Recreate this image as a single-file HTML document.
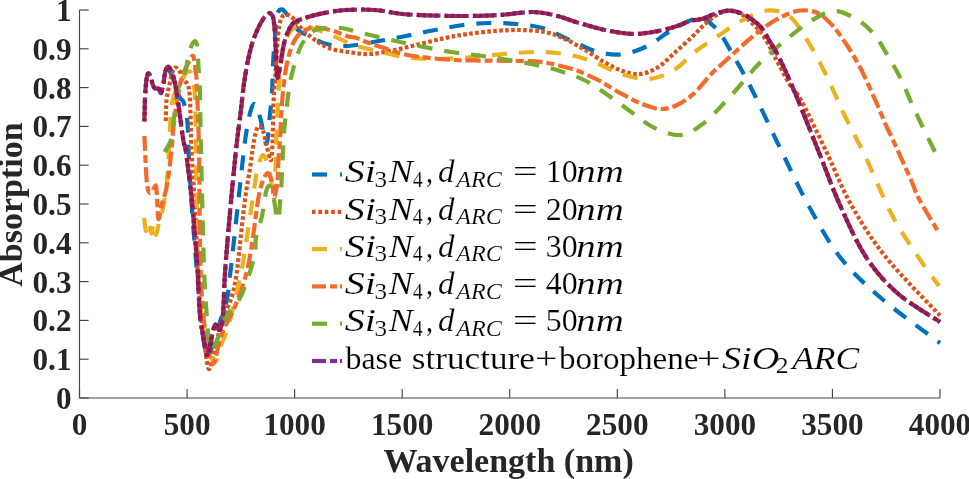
<!DOCTYPE html>
<html><head><meta charset="utf-8"><style>
html,body{margin:0;padding:0;background:#fff;}
body{width:969px;height:479px;overflow:hidden;}
svg{display:block;filter:blur(0.45px);}
.tk text{font-family:"Liberation Serif",serif;font-weight:bold;font-size:32px;fill:#262626;stroke:#262626;stroke-width:0;}
.lab{font-family:"Liberation Serif",serif;font-weight:bold;font-size:34px;fill:#262626;stroke:#262626;stroke-width:0;}
.lg text{fill:#000;stroke:#fff;stroke-width:0.15px;}
</style></head><body>
<svg width="969" height="479" viewBox="0 0 969 479">
<rect width="969" height="479" fill="#fff"/>
<g>
<path d="M168.0,68.0 C168.7,69.3 170.7,72.7 172.0,76.0 C173.3,79.3 174.7,84.3 176.0,88.0 C177.3,91.7 178.7,95.5 180.0,98.0 C181.3,100.5 182.8,98.8 184.0,103.0 C185.2,107.2 186.7,113.5 187.5,123.0 C188.3,132.5 188.2,145.5 189.0,160.0 C189.8,174.5 190.8,193.3 192.0,210.0 C193.2,226.7 194.7,244.2 196.0,260.0 C197.3,275.8 198.8,291.7 200.0,305.0 C201.2,318.3 202.2,331.3 203.5,340.0 C204.8,348.7 206.2,355.3 207.5,357.0 C208.8,358.7 209.2,354.8 211.0,350.0 C212.8,345.2 215.4,336.3 218.0,328.0 C220.6,319.7 224.8,308.8 226.8,300.0 C228.8,291.2 229.0,282.8 230.0,275.0 C231.0,267.2 230.5,271.8 232.6,253.0 C234.7,234.2 240.4,181.2 242.5,162.5 C244.6,143.8 243.8,149.2 245.0,141.0 C246.2,132.8 248.3,119.2 250.0,113.0 C251.7,106.8 253.2,103.0 255.0,104.0 C256.8,105.0 258.6,112.3 260.5,119.0 C262.4,125.7 264.8,144.0 266.3,144.0 C267.8,144.0 268.6,127.5 269.5,119.0 C270.4,110.5 271.4,102.0 272.0,93.0 C272.6,84.0 272.5,74.3 273.0,65.0 C273.5,55.7 274.3,45.3 275.0,37.0 C275.7,28.7 275.9,19.6 277.0,15.0 C278.1,10.4 279.7,9.6 281.3,9.4 C282.9,9.2 283.7,10.2 286.5,13.6 C289.3,17.0 294.9,26.6 298.0,30.0 C301.1,33.4 300.3,31.7 305.0,34.0 C309.7,36.3 318.8,41.8 326.0,43.8 C333.2,45.8 339.2,46.5 348.0,46.0 C356.8,45.5 369.3,42.7 379.0,41.0 C388.7,39.3 397.1,37.8 406.0,36.0 C414.9,34.2 423.5,32.2 432.5,30.5 C441.5,28.8 450.6,26.8 460.0,25.5 C469.4,24.2 479.7,23.2 489.0,23.0 C498.3,22.8 507.1,23.2 516.0,24.0 C524.9,24.8 533.9,25.5 542.5,28.0 C551.1,30.5 558.8,35.2 567.5,39.0 C576.2,42.8 586.1,48.4 595.0,51.0 C603.9,53.6 612.2,55.3 621.0,54.5 C629.8,53.7 639.3,49.9 647.5,46.0 C655.7,42.1 662.5,35.4 670.0,31.0 C677.5,26.6 687.0,21.7 692.5,19.5 C698.0,17.3 698.6,15.9 703.0,18.0 C707.4,20.1 714.0,25.8 719.0,32.0 C724.0,38.2 728.3,47.0 733.0,55.0 C737.7,63.0 742.7,71.8 747.0,80.0 C751.3,88.2 753.2,92.0 759.0,104.0 C764.8,116.0 773.8,135.2 782.0,152.0 C790.2,168.8 798.4,187.1 808.0,204.5 C817.6,221.9 827.5,241.0 839.7,256.7 C852.0,272.4 864.8,284.1 881.5,298.5 C898.2,312.9 930.2,335.6 940.0,343.0" fill="none" stroke="#0072BD" stroke-width="4.2" stroke-dasharray="15 12" />
<path d="M165.8,121.0 C165.9,117.5 165.9,106.0 166.5,100.0 C167.1,94.0 168.4,89.7 169.4,85.0 C170.4,80.3 171.4,74.9 172.5,72.0 C173.6,69.1 174.4,67.5 175.7,67.5 C176.9,67.5 178.6,69.9 180.0,72.0 C181.4,74.1 182.6,77.7 184.0,80.0 C185.4,82.3 187.2,82.7 188.2,86.0 C189.2,89.3 189.4,89.3 190.0,100.0 C190.6,110.7 190.8,135.0 191.5,150.0 C192.2,165.0 193.2,176.7 194.0,190.0 C194.8,203.3 195.4,217.1 196.0,230.0 C196.6,242.9 196.7,253.3 197.5,267.5 C198.3,281.7 199.8,301.6 201.0,315.0 C202.2,328.4 203.7,339.0 205.0,348.0 C206.3,357.0 207.5,368.3 209.0,369.0 C210.5,369.7 211.8,359.8 214.0,352.0 C216.2,344.2 219.0,331.3 222.0,322.0 C225.0,312.7 229.6,303.8 232.0,296.0 C234.4,288.2 235.2,282.2 236.4,275.0 C237.6,267.8 237.6,265.5 239.0,253.0 C240.4,240.5 243.1,214.3 245.0,200.0 C246.9,185.7 248.7,176.8 250.2,167.0 C251.7,157.2 252.6,147.8 253.9,141.0 C255.2,134.2 256.7,127.8 258.3,126.3 C259.9,124.8 262.1,129.1 263.4,132.0 C264.7,134.9 265.3,140.0 266.3,144.0 C267.3,148.0 268.4,153.3 269.2,156.0 C270.0,158.7 270.5,161.0 271.0,160.0 C271.5,159.0 271.9,155.2 272.2,150.0 C272.5,144.8 272.7,137.3 272.9,129.0 C273.1,120.7 273.2,108.0 273.6,100.0 C274.0,92.0 274.6,87.0 275.0,81.0 C275.4,75.0 275.5,71.6 276.0,64.0 C276.5,56.4 277.2,43.0 278.0,35.5 C278.8,28.0 279.6,22.5 281.0,19.0 C282.4,15.5 284.3,14.6 286.5,14.6 C288.7,14.6 291.4,16.6 294.0,19.0 C296.6,21.4 298.5,25.5 302.0,29.0 C305.5,32.5 310.5,36.8 315.0,40.0 C319.5,43.2 323.5,46.0 329.0,48.0 C334.5,50.0 341.2,51.0 348.0,52.0 C354.8,53.0 362.2,54.3 370.0,54.0 C377.8,53.7 386.7,51.7 395.0,50.0 C403.3,48.3 411.7,46.0 420.0,44.0 C428.3,42.0 437.1,39.7 445.0,38.0 C452.9,36.3 459.2,35.2 467.5,34.0 C475.8,32.8 486.2,31.7 495.0,31.0 C503.8,30.3 511.7,29.8 520.0,30.0 C528.3,30.2 537.5,30.5 545.0,32.0 C552.5,33.5 558.3,36.0 565.0,39.0 C571.7,42.0 578.3,46.1 585.0,50.0 C591.7,53.9 598.8,59.0 605.0,62.5 C611.2,66.0 616.7,69.1 622.5,71.0 C628.3,72.9 634.2,74.6 640.0,74.0 C645.8,73.4 651.7,71.1 657.5,67.5 C663.3,63.9 669.4,57.5 675.0,52.5 C680.6,47.5 686.9,41.8 691.3,37.6 C695.7,33.5 698.0,30.7 701.3,27.6 C704.6,24.5 708.0,21.3 711.3,18.8 C714.6,16.3 717.9,13.8 721.3,12.5 C724.6,11.2 727.8,10.3 731.4,10.7 C735.0,11.1 738.8,12.6 742.6,15.0 C746.4,17.4 750.6,21.7 754.0,25.0 C757.4,28.3 760.0,31.2 762.7,35.0 C765.4,38.8 768.1,43.8 770.2,47.6 C772.3,51.4 771.9,51.4 775.2,57.6 C778.5,63.8 785.7,77.9 790.0,85.0 C794.3,92.1 794.9,88.8 801.0,100.0 C807.1,111.2 818.2,134.6 826.5,152.0 C834.8,169.4 841.2,187.1 851.0,204.5 C860.8,221.9 870.7,238.2 885.5,256.7 C900.3,275.2 930.9,305.7 940.0,315.5" fill="none" stroke="#D95319" stroke-width="4.2" stroke-dasharray="3.6 2.4" />
<path d="M144.2,218.0 C144.5,220.2 145.1,230.3 145.8,231.0 C146.5,231.7 147.6,221.6 148.5,222.0 C149.4,222.4 150.7,233.3 151.5,233.5 C152.3,233.7 152.8,222.8 153.5,223.0 C154.2,223.2 155.1,235.2 156.0,235.0 C156.9,234.8 158.0,225.8 159.0,222.0 C160.0,218.2 161.0,216.2 162.0,212.0 C163.0,207.8 164.1,203.2 165.0,197.0 C165.9,190.8 166.6,188.2 167.5,175.0 C168.4,161.8 169.8,129.7 170.5,118.0 C171.2,106.3 170.6,109.7 171.5,105.0 C172.4,100.3 174.2,94.2 176.0,90.0 C177.8,85.8 180.3,82.8 182.0,80.0 C183.7,77.2 184.7,74.4 186.0,73.0 C187.3,71.6 188.9,70.9 190.0,71.7 C191.1,72.5 191.7,73.6 192.5,78.0 C193.3,82.4 194.4,86.0 195.0,98.0 C195.6,110.0 195.5,121.8 196.0,150.0 C196.5,178.2 197.2,240.3 198.0,267.0 C198.8,293.7 199.7,297.0 201.0,310.0 C202.3,323.0 203.7,336.3 206.0,345.0 C208.3,353.7 212.4,362.0 214.9,362.0 C217.4,362.0 218.7,351.2 221.0,345.0 C223.3,338.8 225.5,336.3 228.7,325.0 C231.9,313.7 237.5,289.5 240.2,277.0 C242.9,264.5 242.9,262.8 245.0,250.0 C247.1,237.2 250.4,213.5 252.5,200.0 C254.6,186.5 255.8,176.5 257.5,169.0 C259.2,161.5 261.2,155.5 263.0,155.0 C264.8,154.5 266.3,161.0 268.0,166.0 C269.7,171.0 271.7,185.7 273.0,185.0 C274.3,184.3 275.2,171.3 275.8,162.0 C276.4,152.7 276.1,138.6 276.5,129.0 C276.9,119.4 277.4,114.2 278.0,104.4 C278.6,94.6 279.2,79.1 280.0,70.0 C280.8,60.9 281.7,55.8 283.0,50.0 C284.3,44.2 286.2,38.7 288.0,35.0 C289.8,31.3 291.2,29.5 294.0,28.0 C296.8,26.5 299.5,25.1 305.0,26.0 C310.5,26.9 320.2,30.8 327.0,33.4 C333.8,36.0 341.8,39.9 346.0,41.8 C350.2,43.7 347.2,43.5 352.5,45.0 C357.8,46.5 368.9,49.0 377.5,51.0 C386.1,53.0 395.2,55.7 404.0,57.0 C412.8,58.3 420.7,58.8 430.0,59.0 C439.3,59.2 450.4,58.6 460.0,58.0 C469.6,57.4 478.3,56.3 487.5,55.5 C496.7,54.7 505.8,53.6 515.0,53.0 C524.2,52.4 533.3,51.7 542.5,52.0 C551.7,52.3 561.2,53.2 570.0,55.0 C578.8,56.8 586.5,59.3 595.0,62.5 C603.5,65.7 612.0,71.2 621.0,74.0 C630.0,76.8 640.2,79.7 649.0,79.0 C657.8,78.3 666.2,74.7 674.0,70.0 C681.8,65.3 688.7,56.7 696.0,51.0 C703.3,45.3 710.5,41.0 718.0,36.0 C725.5,31.0 732.8,25.2 741.0,21.0 C749.2,16.8 759.0,11.3 767.0,10.5 C775.0,9.7 782.5,11.4 789.0,16.0 C795.5,20.6 800.5,30.0 805.8,38.0 C811.0,46.0 816.1,55.7 820.5,64.0 C824.9,72.3 828.1,79.4 832.0,87.7 C835.9,96.0 838.3,102.4 843.9,114.0 C849.5,125.6 857.8,140.7 865.8,157.5 C873.8,174.3 883.3,198.5 892.0,215.0 C900.7,231.5 910.2,244.9 918.0,256.7 C925.8,268.5 935.5,281.1 939.0,286.0" fill="none" stroke="#EDB120" stroke-width="4.2" stroke-dasharray="15 12" />
<path d="M144.4,136.0 C144.7,141.7 145.5,161.5 146.0,170.0 C146.5,178.5 146.8,183.2 147.5,187.0 C148.2,190.8 148.9,192.8 150.0,193.0 C151.1,193.2 153.0,189.2 154.0,188.0 C155.0,186.8 155.5,184.5 156.0,186.0 C156.5,187.5 156.6,191.5 157.0,197.0 C157.4,202.5 157.7,217.8 158.5,219.0 C159.3,220.2 160.8,208.8 162.0,204.0 C163.2,199.2 164.8,195.3 166.0,190.0 C167.2,184.7 168.1,178.7 169.0,172.0 C169.9,165.3 170.7,157.7 171.5,150.0 C172.3,142.3 172.5,135.2 173.6,126.0 C174.7,116.8 176.4,103.7 178.0,95.0 C179.6,86.3 181.0,79.8 183.0,74.0 C185.0,68.2 188.3,62.9 190.0,60.0 C191.7,57.1 192.4,54.3 193.4,56.5 C194.4,58.7 195.2,68.6 195.8,73.0 C196.4,77.4 196.2,70.2 196.7,83.0 C197.2,95.8 198.4,119.2 199.0,150.0 C199.6,180.8 199.5,237.5 200.5,267.5 C201.5,297.5 203.0,313.9 205.0,330.0 C207.0,346.1 209.8,363.3 212.6,364.0 C215.4,364.7 217.9,344.0 221.8,334.0 C225.7,324.0 232.0,313.8 236.0,304.0 C240.0,294.2 243.6,283.5 246.0,275.0 C248.4,266.5 249.3,259.8 250.5,253.0 C251.7,246.2 251.9,244.2 253.4,234.0 C254.9,223.8 257.3,202.1 259.6,192.0 C261.9,181.9 264.9,175.1 267.0,173.4 C269.1,171.7 270.8,177.9 272.0,182.0 C273.2,186.1 273.1,198.0 274.0,198.0 C274.9,198.0 276.7,188.2 277.4,182.0 C278.1,175.8 277.9,168.6 278.4,161.0 C278.9,153.4 279.6,145.5 280.2,136.5 C280.8,127.5 281.0,116.6 281.7,107.0 C282.4,97.4 283.4,86.8 284.4,79.0 C285.4,71.2 286.2,66.4 287.6,60.5 C289.0,54.6 290.7,48.3 292.8,43.8 C294.9,39.3 297.1,36.0 300.0,33.4 C302.9,30.8 307.0,28.9 310.5,28.0 C314.0,27.1 317.2,27.5 321.0,28.0 C324.8,28.5 329.0,29.6 333.5,31.0 C338.0,32.4 344.4,35.4 348.0,36.5 C351.6,37.6 351.8,36.5 355.0,37.5 C358.2,38.5 362.9,40.8 367.5,42.5 C372.1,44.2 376.2,45.5 382.5,47.5 C388.8,49.5 397.1,52.8 405.0,54.5 C412.9,56.2 421.7,57.1 430.0,58.0 C438.3,58.9 447.5,59.6 455.0,60.0 C462.5,60.4 464.3,60.3 475.0,60.5 C485.7,60.7 507.3,60.7 519.0,61.0 C530.7,61.3 536.1,61.2 545.0,62.5 C553.9,63.8 565.8,67.1 572.5,69.0 C579.2,70.9 580.4,72.0 585.0,74.0 C589.6,76.0 594.0,77.8 600.0,81.0 C606.0,84.2 613.9,89.6 620.9,93.4 C627.9,97.2 635.2,101.2 641.8,103.8 C648.4,106.4 654.6,108.8 660.5,109.0 C666.4,109.2 671.6,107.6 677.2,105.0 C682.8,102.4 688.4,98.5 694.0,93.4 C699.6,88.3 705.4,80.0 710.6,74.6 C715.8,69.2 720.4,65.5 725.3,61.0 C730.2,56.5 735.4,51.7 740.0,47.6 C744.6,43.5 748.1,40.1 752.7,36.3 C757.3,32.5 762.7,28.3 767.7,25.0 C772.7,21.7 777.3,18.7 782.7,16.3 C788.1,13.9 794.2,11.1 800.0,10.5 C805.8,9.9 812.2,10.6 817.5,13.0 C822.8,15.4 827.1,19.7 832.0,25.0 C836.9,30.3 841.9,37.5 846.8,45.0 C851.7,52.5 856.7,60.8 861.4,70.0 C866.1,79.2 871.1,90.7 875.2,100.0 C879.4,109.3 883.3,119.3 886.3,126.0 C889.3,132.7 888.9,131.0 893.0,140.0 C897.1,149.0 906.6,170.0 911.0,180.0 C915.4,190.0 914.9,191.2 919.6,200.0 C924.3,208.8 935.8,227.5 939.0,233.0" fill="none" stroke="#F26B2A" stroke-width="4.2" stroke-dasharray="15 4 8 4" />
<path d="M164.5,152.0 C165.2,150.9 167.3,148.0 168.5,145.5 C169.7,143.0 171.1,140.4 171.8,137.0 C172.6,133.6 172.5,129.1 173.0,125.0 C173.5,120.9 173.7,119.2 174.7,112.5 C175.7,105.8 177.2,92.1 179.0,85.0 C180.8,77.9 184.4,74.2 185.8,70.0 C187.2,65.8 186.6,63.8 187.5,60.0 C188.4,56.2 189.8,50.2 191.0,47.0 C192.2,43.8 193.9,41.0 195.0,41.0 C196.1,41.0 196.9,43.3 197.5,47.0 C198.1,50.7 198.1,58.3 198.3,63.0 C198.6,67.7 198.7,70.0 199.0,75.0 C199.3,80.0 199.7,80.5 200.0,93.0 C200.3,105.5 200.3,120.9 201.0,150.0 C201.7,179.1 203.0,239.8 204.0,267.5 C205.0,295.2 205.8,302.2 206.8,316.0 C207.9,329.8 208.4,346.3 210.3,350.0 C212.2,353.7 215.1,344.0 218.0,338.0 C220.9,332.0 224.3,320.7 228.0,314.0 C231.7,307.3 236.5,304.5 240.0,298.0 C243.5,291.5 246.5,282.5 249.0,275.0 C251.5,267.5 253.8,259.2 255.0,253.0 C256.2,246.8 254.8,244.2 256.0,238.0 C257.2,231.8 260.3,223.7 262.0,216.0 C263.7,208.3 264.7,197.0 266.0,192.0 C267.3,187.0 268.7,184.7 270.0,186.0 C271.3,187.3 272.7,194.3 274.0,200.0 C275.3,205.7 276.8,221.7 278.0,220.0 C279.2,218.3 280.2,199.8 281.0,190.0 C281.8,180.2 282.0,170.4 282.5,161.0 C283.0,151.6 283.2,142.6 283.9,133.6 C284.6,124.6 285.7,116.1 286.8,107.0 C287.9,97.9 288.5,88.8 290.7,79.0 C292.9,69.2 296.7,55.6 300.0,48.0 C303.3,40.4 307.3,36.6 310.5,33.4 C313.7,30.2 314.1,29.9 319.0,29.0 C323.9,28.1 334.6,27.8 339.8,28.0 C345.0,28.2 345.0,28.8 350.0,30.0 C355.0,31.2 362.3,33.2 370.0,35.0 C377.7,36.8 387.0,39.0 396.0,41.0 C405.0,43.0 414.8,45.2 424.0,47.0 C433.2,48.8 441.8,50.6 451.0,52.0 C460.2,53.4 469.8,54.2 479.0,55.5 C488.2,56.8 496.8,58.0 506.0,59.5 C515.2,61.0 525.0,62.6 534.0,64.5 C543.0,66.4 551.5,68.3 560.0,71.0 C568.5,73.7 576.9,76.4 585.0,80.5 C593.1,84.6 600.7,90.2 608.4,95.5 C616.1,100.8 623.6,106.6 631.3,112.0 C638.9,117.4 645.9,124.0 654.3,127.8 C662.6,131.6 673.0,135.9 681.4,135.0 C689.8,134.1 697.1,128.1 704.4,122.6 C711.7,117.1 718.7,108.7 725.3,101.8 C731.9,94.9 738.4,87.3 744.0,81.0 C749.6,74.7 752.0,70.6 758.7,64.0 C765.4,57.4 775.2,48.6 784.0,41.4 C792.8,34.1 803.2,25.6 811.7,20.5 C820.2,15.4 827.2,11.0 835.0,11.0 C842.8,11.0 851.9,16.5 858.5,20.5 C865.1,24.5 869.7,29.1 874.6,35.0 C879.5,40.9 883.3,48.3 887.7,55.6 C892.1,62.9 897.0,71.3 900.9,79.0 C904.8,86.7 907.2,93.7 911.0,102.0 C914.8,110.3 918.8,119.0 923.5,128.7 C928.2,138.4 936.4,154.8 939.0,160.0" fill="none" stroke="#77AC30" stroke-width="4.2" stroke-dasharray="15 12" />
<path d="M144.4,121.4 C144.5,117.5 144.7,104.7 145.0,98.0 C145.3,91.3 145.8,85.1 146.3,81.0 C146.8,76.9 147.2,74.2 148.0,73.5 C148.8,72.8 150.2,75.2 151.0,77.0 C151.8,78.8 151.8,82.1 152.5,84.0 C153.2,85.9 154.0,87.8 155.0,88.5 C156.0,89.2 157.4,87.8 158.4,88.5 C159.4,89.2 160.2,93.8 161.0,93.0 C161.8,92.2 162.7,87.3 163.4,84.0 C164.1,80.7 164.3,75.9 165.0,73.0 C165.7,70.1 166.6,67.3 167.6,66.8 C168.6,66.3 170.0,68.3 171.0,70.0 C172.0,71.7 172.6,73.7 173.4,76.7 C174.2,79.7 175.0,83.5 175.8,88.0 C176.6,92.5 177.1,95.3 178.3,104.0 C179.6,112.7 182.0,132.0 183.3,140.0 C184.6,148.0 184.6,142.0 186.0,152.0 C187.4,162.0 190.5,187.8 191.8,200.0 C193.1,212.2 193.0,213.3 194.0,225.0 C195.0,236.7 196.6,254.8 197.6,270.0 C198.6,285.2 199.0,304.9 200.0,316.0 C201.0,327.1 202.3,330.2 203.4,336.7 C204.5,343.2 205.7,353.9 206.8,355.0 C208.0,356.1 209.0,348.6 210.3,343.6 C211.7,338.6 213.4,327.3 214.9,325.0 C216.4,322.7 218.2,331.3 219.5,329.8 C220.8,328.3 222.0,326.0 222.9,316.0 C223.8,306.0 224.0,287.2 225.2,270.0 C226.4,252.8 228.2,232.5 230.0,212.5 C231.8,192.5 234.2,166.8 236.0,150.0 C237.8,133.2 239.4,122.8 240.7,112.0 C242.0,101.2 242.6,93.7 243.8,85.0 C245.0,76.3 246.6,66.8 248.0,60.0 C249.4,53.2 250.7,48.5 252.0,44.0 C253.3,39.5 254.5,36.6 256.0,33.0 C257.5,29.4 259.4,25.3 261.0,22.5 C262.6,19.7 264.0,17.6 265.5,16.0 C267.0,14.4 268.8,13.0 270.0,13.2 C271.2,13.4 272.2,14.5 273.0,17.0 C273.8,19.5 274.1,23.3 274.5,28.0 C274.9,32.7 275.2,39.0 275.5,45.0 C275.8,51.0 276.2,58.5 276.5,64.0 C276.8,69.5 276.8,78.0 277.5,78.0 C278.2,78.0 279.5,69.3 280.5,64.0 C281.5,58.7 282.4,51.0 283.5,46.0 C284.6,41.0 285.4,37.8 287.0,34.0 C288.6,30.2 290.5,26.0 293.0,23.5 C295.5,21.0 297.3,20.6 302.0,19.0 C306.7,17.4 313.7,15.1 321.0,13.6 C328.3,12.1 337.0,10.6 346.0,10.0 C355.0,9.4 365.6,9.3 375.0,10.0 C384.4,10.7 392.9,13.1 402.5,14.0 C412.1,14.9 421.7,15.2 432.5,15.5 C443.3,15.8 456.2,16.1 467.5,16.0 C478.8,15.9 489.2,15.7 500.0,15.0 C510.8,14.3 522.9,11.8 532.5,12.0 C542.1,12.2 550.0,14.2 557.5,16.0 C565.0,17.8 569.6,20.2 577.5,22.5 C585.4,24.8 596.2,28.1 605.0,30.0 C613.8,31.9 622.5,33.3 630.0,33.8 C637.5,34.2 642.9,33.5 650.0,32.5 C657.1,31.5 665.8,29.4 672.5,27.5 C679.2,25.6 685.0,22.4 690.0,21.0 C695.0,19.6 698.3,20.0 702.5,18.8 C706.7,17.6 710.6,15.2 715.0,13.8 C719.4,12.5 724.2,10.7 728.8,10.7 C733.4,10.7 738.6,12.2 742.6,13.8 C746.6,15.4 749.6,17.7 752.7,20.0 C755.8,22.3 758.7,24.3 761.4,27.6 C764.1,30.9 766.5,35.8 769.0,40.0 C771.5,44.2 773.8,47.6 776.5,52.6 C779.2,57.6 781.4,62.1 785.0,70.0 C788.6,77.9 792.4,86.3 798.0,100.0 C803.6,113.7 811.8,134.6 818.8,152.0 C825.8,169.4 831.9,187.1 839.7,204.5 C847.5,221.9 856.2,241.9 865.8,256.7 C875.4,271.4 884.8,282.1 897.2,293.0 C909.6,303.9 932.9,317.2 940.0,322.0" fill="none" stroke="#7E2F8E" stroke-width="4.2" stroke-dasharray="24 4" />
<path d="M144.4,121.4 C144.5,117.5 144.7,104.7 145.0,98.0 C145.3,91.3 145.8,85.1 146.3,81.0 C146.8,76.9 147.2,74.2 148.0,73.5 C148.8,72.8 150.2,75.2 151.0,77.0 C151.8,78.8 151.8,82.1 152.5,84.0 C153.2,85.9 154.0,87.8 155.0,88.5 C156.0,89.2 157.4,87.8 158.4,88.5 C159.4,89.2 160.2,93.8 161.0,93.0 C161.8,92.2 162.7,87.3 163.4,84.0 C164.1,80.7 164.3,75.9 165.0,73.0 C165.7,70.1 166.6,67.3 167.6,66.8 C168.6,66.3 170.0,68.3 171.0,70.0 C172.0,71.7 172.6,73.7 173.4,76.7 C174.2,79.7 175.0,83.5 175.8,88.0 C176.6,92.5 177.1,95.3 178.3,104.0 C179.6,112.7 182.0,132.0 183.3,140.0 C184.6,148.0 184.6,142.0 186.0,152.0 C187.4,162.0 190.5,187.8 191.8,200.0 C193.1,212.2 193.0,213.3 194.0,225.0 C195.0,236.7 196.6,254.8 197.6,270.0 C198.6,285.2 199.0,304.9 200.0,316.0 C201.0,327.1 202.3,330.2 203.4,336.7 C204.5,343.2 205.7,353.9 206.8,355.0 C208.0,356.1 209.0,348.6 210.3,343.6 C211.7,338.6 213.4,327.3 214.9,325.0 C216.4,322.7 218.2,331.3 219.5,329.8 C220.8,328.3 222.0,326.0 222.9,316.0 C223.8,306.0 224.0,287.2 225.2,270.0 C226.4,252.8 228.2,232.5 230.0,212.5 C231.8,192.5 234.2,166.8 236.0,150.0 C237.8,133.2 239.4,122.8 240.7,112.0 C242.0,101.2 242.6,93.7 243.8,85.0 C245.0,76.3 246.6,66.8 248.0,60.0 C249.4,53.2 250.7,48.5 252.0,44.0 C253.3,39.5 254.5,36.6 256.0,33.0 C257.5,29.4 259.4,25.3 261.0,22.5 C262.6,19.7 264.0,17.6 265.5,16.0 C267.0,14.4 268.8,13.0 270.0,13.2 C271.2,13.4 272.2,14.5 273.0,17.0 C273.8,19.5 274.1,23.3 274.5,28.0 C274.9,32.7 275.2,39.0 275.5,45.0 C275.8,51.0 276.2,58.5 276.5,64.0 C276.8,69.5 276.8,78.0 277.5,78.0 C278.2,78.0 279.5,69.3 280.5,64.0 C281.5,58.7 282.4,51.0 283.5,46.0 C284.6,41.0 285.4,37.8 287.0,34.0 C288.6,30.2 290.5,26.0 293.0,23.5 C295.5,21.0 297.3,20.6 302.0,19.0 C306.7,17.4 313.7,15.1 321.0,13.6 C328.3,12.1 337.0,10.6 346.0,10.0 C355.0,9.4 365.6,9.3 375.0,10.0 C384.4,10.7 392.9,13.1 402.5,14.0 C412.1,14.9 421.7,15.2 432.5,15.5 C443.3,15.8 456.2,16.1 467.5,16.0 C478.8,15.9 489.2,15.7 500.0,15.0 C510.8,14.3 522.9,11.8 532.5,12.0 C542.1,12.2 550.0,14.2 557.5,16.0 C565.0,17.8 569.6,20.2 577.5,22.5 C585.4,24.8 596.2,28.1 605.0,30.0 C613.8,31.9 622.5,33.3 630.0,33.8 C637.5,34.2 642.9,33.5 650.0,32.5 C657.1,31.5 665.8,29.4 672.5,27.5 C679.2,25.6 685.0,22.4 690.0,21.0 C695.0,19.6 698.3,20.0 702.5,18.8 C706.7,17.6 710.6,15.2 715.0,13.8 C719.4,12.5 724.2,10.7 728.8,10.7 C733.4,10.7 738.6,12.2 742.6,13.8 C746.6,15.4 749.6,17.7 752.7,20.0 C755.8,22.3 758.7,24.3 761.4,27.6 C764.1,30.9 766.5,35.8 769.0,40.0 C771.5,44.2 773.8,47.6 776.5,52.6 C779.2,57.6 781.4,62.1 785.0,70.0 C788.6,77.9 792.4,86.3 798.0,100.0 C803.6,113.7 811.8,134.6 818.8,152.0 C825.8,169.4 831.9,187.1 839.7,204.5 C847.5,221.9 856.2,241.9 865.8,256.7 C875.4,271.4 884.8,282.1 897.2,293.0 C909.6,303.9 932.9,317.2 940.0,322.0" fill="none" stroke="#A2142F" stroke-width="4.2" stroke-dasharray="3.5 2.5 3.5 2.5 3.5 2.5 3.5 6.5" />
</g>
<g stroke="#454545" stroke-width="1.15" fill="none">
<polyline points="79.5,10.0 79.5,398.0 940.0,398.0"/>
<line x1="79.5" y1="398.00" x2="88.6" y2="398.00"/>
<line x1="79.5" y1="359.20" x2="88.6" y2="359.20"/>
<line x1="79.5" y1="320.40" x2="88.6" y2="320.40"/>
<line x1="79.5" y1="281.60" x2="88.6" y2="281.60"/>
<line x1="79.5" y1="242.80" x2="88.6" y2="242.80"/>
<line x1="79.5" y1="204.00" x2="88.6" y2="204.00"/>
<line x1="79.5" y1="165.20" x2="88.6" y2="165.20"/>
<line x1="79.5" y1="126.40" x2="88.6" y2="126.40"/>
<line x1="79.5" y1="87.60" x2="88.6" y2="87.60"/>
<line x1="79.5" y1="48.80" x2="88.6" y2="48.80"/>
<line x1="79.5" y1="10.00" x2="88.6" y2="10.00"/>
<line x1="79.50" y1="398.0" x2="79.50" y2="388.9"/>
<line x1="187.06" y1="398.0" x2="187.06" y2="388.9"/>
<line x1="294.62" y1="398.0" x2="294.62" y2="388.9"/>
<line x1="402.19" y1="398.0" x2="402.19" y2="388.9"/>
<line x1="509.75" y1="398.0" x2="509.75" y2="388.9"/>
<line x1="617.31" y1="398.0" x2="617.31" y2="388.9"/>
<line x1="724.88" y1="398.0" x2="724.88" y2="388.9"/>
<line x1="832.44" y1="398.0" x2="832.44" y2="388.9"/>
<line x1="940.00" y1="398.0" x2="940.00" y2="388.9"/>
</g>
<g class="tk" text-anchor="end">
<text transform="translate(71.5,409.0) scale(0.975,1)">0</text>
<text transform="translate(71.5,370.2) scale(0.975,1)">0.1</text>
<text transform="translate(71.5,331.4) scale(0.975,1)">0.2</text>
<text transform="translate(71.5,292.6) scale(0.975,1)">0.3</text>
<text transform="translate(71.5,253.8) scale(0.975,1)">0.4</text>
<text transform="translate(71.5,215.0) scale(0.975,1)">0.5</text>
<text transform="translate(71.5,176.2) scale(0.975,1)">0.6</text>
<text transform="translate(71.5,137.4) scale(0.975,1)">0.7</text>
<text transform="translate(71.5,98.6) scale(0.975,1)">0.8</text>
<text transform="translate(71.5,59.8) scale(0.975,1)">0.9</text>
<text transform="translate(71.5,21.0) scale(0.975,1)">1</text>
</g>
<g class="tk" text-anchor="middle">
<text transform="translate(79.5,435.0) scale(0.975,1)">0</text>
<text transform="translate(187.1,435.0) scale(0.975,1)">500</text>
<text transform="translate(294.6,435.0) scale(0.975,1)">1000</text>
<text transform="translate(402.2,435.0) scale(0.975,1)">1500</text>
<text transform="translate(509.8,435.0) scale(0.975,1)">2000</text>
<text transform="translate(617.3,435.0) scale(0.975,1)">2500</text>
<text transform="translate(724.9,435.0) scale(0.975,1)">3000</text>
<text transform="translate(832.4,435.0) scale(0.975,1)">3500</text>
<text transform="translate(940.0,435.0) scale(0.975,1)">4000</text>
</g>
<text class="lab" x="508.6" y="472.0" text-anchor="middle">Wavelength (nm)</text>
<text class="lab" transform="translate(21.9,204.5) rotate(-90)" text-anchor="middle">Absorption</text>
<g class="lg">
<line x1="312" y1="174.5" x2="327" y2="174.5" stroke="#0072BD" stroke-width="4.2"/>
<line x1="340" y1="174.5" x2="342" y2="174.5" stroke="#0072BD" stroke-width="4.2"/>
<text transform="translate(345.90,182.20) scale(1.2565,1)" x="-1.00" y="0" style="font-family:'Liberation Serif';font-style:italic;font-size:32px">Si</text>
<text transform="translate(375.60,186.80) scale(1.1222,1)" x="-1.00" y="0" style="font-family:'Liberation Serif';font-size:22.4px">3</text>
<text transform="translate(388.80,182.20) scale(1.1304,1)" x="0.00" y="0" style="font-family:'Liberation Serif';font-style:italic;font-size:32px">N</text>
<text transform="translate(412.80,186.80) scale(0.8909,1)" x="0.00" y="0" style="font-family:'Liberation Serif';font-size:22.4px">4</text>
<text transform="translate(427.00,182.20) scale(0.8800,1)" x="-1.00" y="0" style="font-family:'Liberation Serif';font-size:32px">,</text>
<text transform="translate(439.00,182.20) scale(1.0267,1)" x="-1.00" y="0" style="font-family:'Liberation Serif';font-style:italic;font-size:32px">d</text>
<text transform="translate(455.20,186.80) scale(1.0791,1)" x="1.00" y="0" style="font-family:'Liberation Serif';font-style:italic;font-size:22.4px">ARC</text>
<text transform="translate(515.50,182.20) scale(1.3933,1)" x="-2.00" y="0" style="font-family:'Liberation Serif';font-size:32px">=</text>
<text transform="translate(548.80,182.20) scale(0.9964,1)" x="-3.00" y="0" style="font-family:'Liberation Serif';font-size:32px">10</text>
<text transform="translate(577.50,182.20) scale(1.2135,1)" x="-1.00" y="0" style="font-family:'Liberation Serif';font-style:italic;font-size:32px">nm</text>
<line x1="312" y1="211.8" x2="342" y2="211.8" stroke="#D95319" stroke-width="4.2" stroke-dasharray="3.6 2.8"/>
<text transform="translate(345.90,219.50) scale(1.2565,1)" x="-1.00" y="0" style="font-family:'Liberation Serif';font-style:italic;font-size:32px">Si</text>
<text transform="translate(375.60,224.10) scale(1.1222,1)" x="-1.00" y="0" style="font-family:'Liberation Serif';font-size:22.4px">3</text>
<text transform="translate(388.80,219.50) scale(1.1304,1)" x="0.00" y="0" style="font-family:'Liberation Serif';font-style:italic;font-size:32px">N</text>
<text transform="translate(412.80,224.10) scale(0.8909,1)" x="0.00" y="0" style="font-family:'Liberation Serif';font-size:22.4px">4</text>
<text transform="translate(427.00,219.50) scale(0.8800,1)" x="-1.00" y="0" style="font-family:'Liberation Serif';font-size:32px">,</text>
<text transform="translate(439.00,219.50) scale(1.0267,1)" x="-1.00" y="0" style="font-family:'Liberation Serif';font-style:italic;font-size:32px">d</text>
<text transform="translate(455.20,224.10) scale(1.0791,1)" x="1.00" y="0" style="font-family:'Liberation Serif';font-style:italic;font-size:22.4px">ARC</text>
<text transform="translate(515.50,219.50) scale(1.3933,1)" x="-2.00" y="0" style="font-family:'Liberation Serif';font-size:32px">=</text>
<text transform="translate(548.80,219.50) scale(0.9964,1)" x="-3.00" y="0" style="font-family:'Liberation Serif';font-size:32px">20</text>
<text transform="translate(577.50,219.50) scale(1.2135,1)" x="-1.00" y="0" style="font-family:'Liberation Serif';font-style:italic;font-size:32px">nm</text>
<line x1="312" y1="249.1" x2="327" y2="249.1" stroke="#EDB120" stroke-width="4.2"/>
<line x1="340" y1="249.1" x2="342" y2="249.1" stroke="#EDB120" stroke-width="4.2"/>
<text transform="translate(345.90,256.80) scale(1.2565,1)" x="-1.00" y="0" style="font-family:'Liberation Serif';font-style:italic;font-size:32px">Si</text>
<text transform="translate(375.60,261.40) scale(1.1222,1)" x="-1.00" y="0" style="font-family:'Liberation Serif';font-size:22.4px">3</text>
<text transform="translate(388.80,256.80) scale(1.1304,1)" x="0.00" y="0" style="font-family:'Liberation Serif';font-style:italic;font-size:32px">N</text>
<text transform="translate(412.80,261.40) scale(0.8909,1)" x="0.00" y="0" style="font-family:'Liberation Serif';font-size:22.4px">4</text>
<text transform="translate(427.00,256.80) scale(0.8800,1)" x="-1.00" y="0" style="font-family:'Liberation Serif';font-size:32px">,</text>
<text transform="translate(439.00,256.80) scale(1.0267,1)" x="-1.00" y="0" style="font-family:'Liberation Serif';font-style:italic;font-size:32px">d</text>
<text transform="translate(455.20,261.40) scale(1.0791,1)" x="1.00" y="0" style="font-family:'Liberation Serif';font-style:italic;font-size:22.4px">ARC</text>
<text transform="translate(515.50,256.80) scale(1.3933,1)" x="-2.00" y="0" style="font-family:'Liberation Serif';font-size:32px">=</text>
<text transform="translate(548.80,256.80) scale(0.9964,1)" x="-3.00" y="0" style="font-family:'Liberation Serif';font-size:32px">30</text>
<text transform="translate(577.50,256.80) scale(1.2135,1)" x="-1.00" y="0" style="font-family:'Liberation Serif';font-style:italic;font-size:32px">nm</text>
<line x1="312" y1="286.4" x2="326" y2="286.4" stroke="#F26B2A" stroke-width="4.2"/>
<line x1="330" y1="286.4" x2="337" y2="286.4" stroke="#F26B2A" stroke-width="4.2"/>
<line x1="340" y1="286.4" x2="342" y2="286.4" stroke="#F26B2A" stroke-width="4.2"/>
<text transform="translate(345.90,294.10) scale(1.2565,1)" x="-1.00" y="0" style="font-family:'Liberation Serif';font-style:italic;font-size:32px">Si</text>
<text transform="translate(375.60,298.70) scale(1.1222,1)" x="-1.00" y="0" style="font-family:'Liberation Serif';font-size:22.4px">3</text>
<text transform="translate(388.80,294.10) scale(1.1304,1)" x="0.00" y="0" style="font-family:'Liberation Serif';font-style:italic;font-size:32px">N</text>
<text transform="translate(412.80,298.70) scale(0.8909,1)" x="0.00" y="0" style="font-family:'Liberation Serif';font-size:22.4px">4</text>
<text transform="translate(427.00,294.10) scale(0.8800,1)" x="-1.00" y="0" style="font-family:'Liberation Serif';font-size:32px">,</text>
<text transform="translate(439.00,294.10) scale(1.0267,1)" x="-1.00" y="0" style="font-family:'Liberation Serif';font-style:italic;font-size:32px">d</text>
<text transform="translate(455.20,298.70) scale(1.0791,1)" x="1.00" y="0" style="font-family:'Liberation Serif';font-style:italic;font-size:22.4px">ARC</text>
<text transform="translate(515.50,294.10) scale(1.3933,1)" x="-2.00" y="0" style="font-family:'Liberation Serif';font-size:32px">=</text>
<text transform="translate(548.80,294.10) scale(0.9964,1)" x="-3.00" y="0" style="font-family:'Liberation Serif';font-size:32px">40</text>
<text transform="translate(577.50,294.10) scale(1.2135,1)" x="-1.00" y="0" style="font-family:'Liberation Serif';font-style:italic;font-size:32px">nm</text>
<line x1="312" y1="323.7" x2="327" y2="323.7" stroke="#77AC30" stroke-width="4.2"/>
<line x1="340" y1="323.7" x2="342" y2="323.7" stroke="#77AC30" stroke-width="4.2"/>
<text transform="translate(345.90,331.40) scale(1.2565,1)" x="-1.00" y="0" style="font-family:'Liberation Serif';font-style:italic;font-size:32px">Si</text>
<text transform="translate(375.60,336.00) scale(1.1222,1)" x="-1.00" y="0" style="font-family:'Liberation Serif';font-size:22.4px">3</text>
<text transform="translate(388.80,331.40) scale(1.1304,1)" x="0.00" y="0" style="font-family:'Liberation Serif';font-style:italic;font-size:32px">N</text>
<text transform="translate(412.80,336.00) scale(0.8909,1)" x="0.00" y="0" style="font-family:'Liberation Serif';font-size:22.4px">4</text>
<text transform="translate(427.00,331.40) scale(0.8800,1)" x="-1.00" y="0" style="font-family:'Liberation Serif';font-size:32px">,</text>
<text transform="translate(439.00,331.40) scale(1.0267,1)" x="-1.00" y="0" style="font-family:'Liberation Serif';font-style:italic;font-size:32px">d</text>
<text transform="translate(455.20,336.00) scale(1.0791,1)" x="1.00" y="0" style="font-family:'Liberation Serif';font-style:italic;font-size:22.4px">ARC</text>
<text transform="translate(515.50,331.40) scale(1.3933,1)" x="-2.00" y="0" style="font-family:'Liberation Serif';font-size:32px">=</text>
<text transform="translate(548.80,331.40) scale(0.9964,1)" x="-3.00" y="0" style="font-family:'Liberation Serif';font-size:32px">50</text>
<text transform="translate(577.50,331.40) scale(1.2135,1)" x="-1.00" y="0" style="font-family:'Liberation Serif';font-style:italic;font-size:32px">nm</text>
<line x1="312" y1="361.0" x2="326" y2="361.0" stroke="#7E2F8E" stroke-width="4.2"/>
<line x1="330" y1="361.0" x2="337" y2="361.0" stroke="#7E2F8E" stroke-width="4.2"/>
<line x1="340" y1="361.0" x2="342" y2="361.0" stroke="#7E2F8E" stroke-width="4.2"/>
<text transform="translate(346.50,368.70) scale(0.9964,1)" x="-1.00" y="0" style="font-family:'Liberation Serif';font-size:32px">base</text>
<text transform="translate(412.80,368.70) scale(1.1009,1)" x="-1.00" y="0" style="font-family:'Liberation Serif';font-size:32px">structure</text>
<text transform="translate(537.60,368.70) scale(1.2400,1)" x="-2.00" y="0" style="font-family:'Liberation Serif';font-size:32px">+</text>
<text transform="translate(560.00,368.70) scale(1.0331,1)" x="-1.00" y="0" style="font-family:'Liberation Serif';font-size:32px">borophene</text>
<text transform="translate(699.50,368.70) scale(1.3333,1)" x="-2.00" y="0" style="font-family:'Liberation Serif';font-size:32px">+</text>
<text transform="translate(723.20,368.70) scale(1.1913,1)" x="-1.00" y="0" style="font-family:'Liberation Serif';font-style:italic;font-size:32px">SiO</text>
<text transform="translate(777.00,373.30) scale(1.1444,1)" x="-1.00" y="0" style="font-family:'Liberation Serif';font-size:22.4px">2</text>
<text transform="translate(790.00,368.70) scale(1.1079,1)" x="2.00" y="0" style="font-family:'Liberation Serif';font-style:italic;font-size:32px">ARC</text>
</g>
</svg>
</body></html>
